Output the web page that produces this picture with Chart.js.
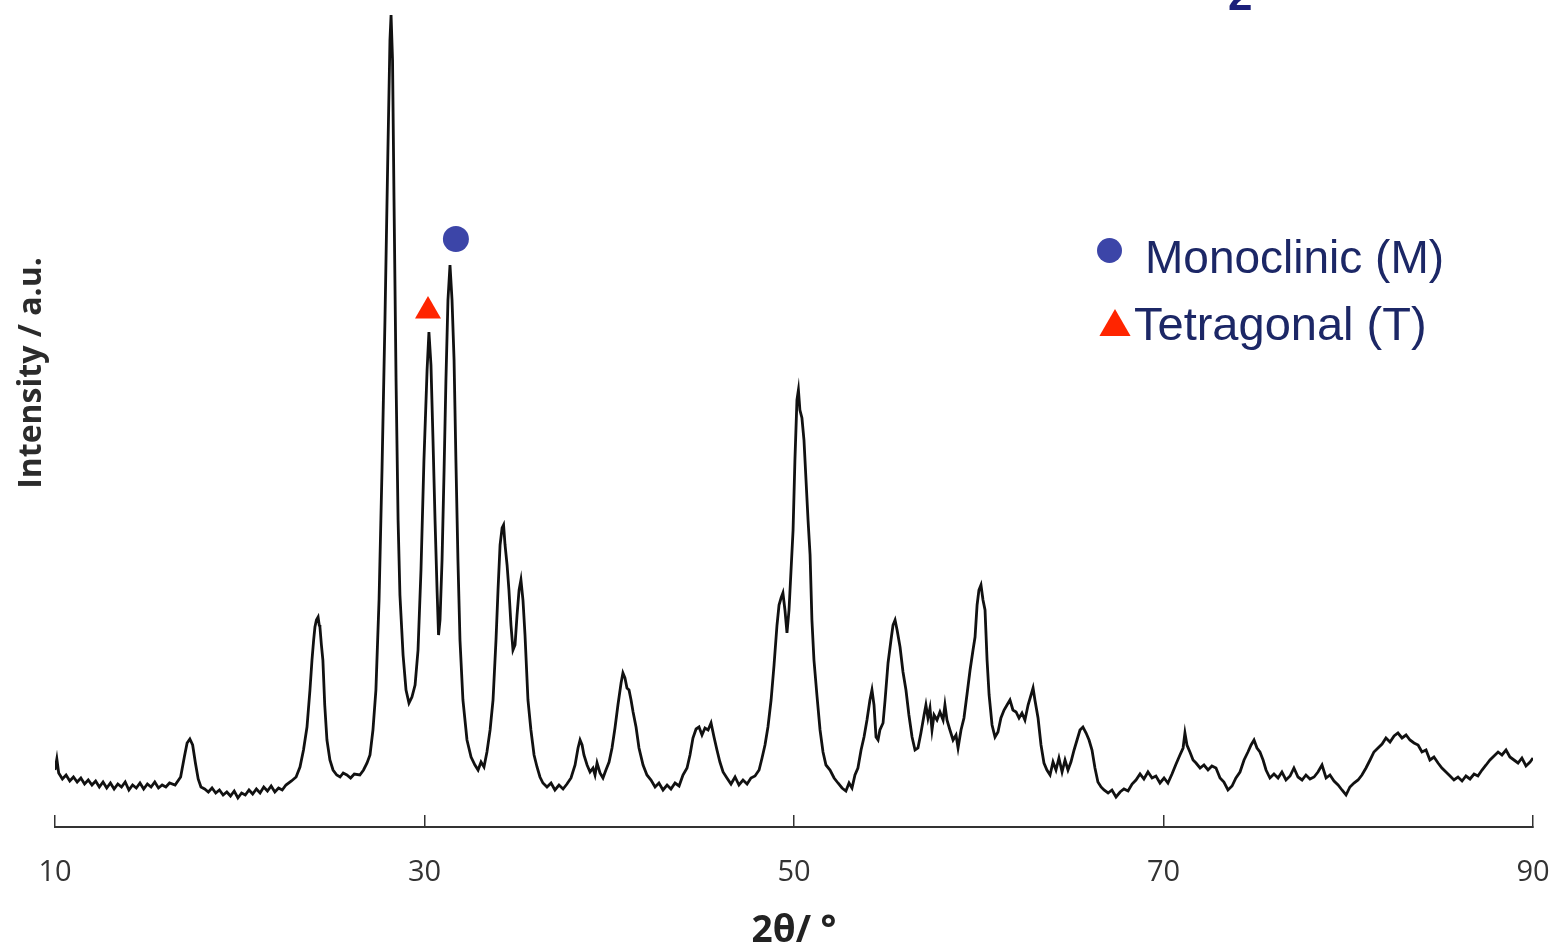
<!DOCTYPE html>
<html>
<head>
<meta charset="utf-8">
<script src="https://cdn.jsdelivr.net/npm/chart.js@4/dist/chart.umd.min.js"></script>
<style>
  html, body { margin: 0; padding: 0; background: #ffffff; }
  #wrap { width: 1555px; height: 949px; position: relative; }
</style>
</head>
<body>
<div id="wrap"><canvas id="xrd"></canvas></div>
<script>
// Diffraction angle 2θ (degrees)
const angles = [
  10.00,10.10,10.20,10.40,10.60,10.80,11.00,11.20,11.40,11.60,11.80,12.00,12.20,12.40,12.60,12.80,13.00,13.20,13.40,13.60,
  13.80,14.00,14.20,14.40,14.60,14.80,15.00,15.20,15.40,15.60,15.80,16.00,16.20,16.50,16.80,17.00,17.15,17.30,17.45,17.60,
  17.75,17.90,18.10,18.30,18.50,18.70,18.90,19.10,19.30,19.50,19.70,19.90,20.10,20.30,20.50,20.70,20.90,21.10,21.30,21.50,
  21.70,21.90,22.10,22.30,22.50,22.80,23.05,23.26,23.45,23.64,23.80,23.91,24.00,24.07,24.15,24.24,24.30,24.34,24.42,24.50,
  24.60,24.72,24.88,25.05,25.25,25.43,25.60,25.80,26.00,26.20,26.50,26.70,26.89,27.05,27.21,27.37,27.54,27.70,27.86,28.02,
  28.13,28.19,28.27,28.35,28.46,28.57,28.67,28.84,29.00,29.16,29.32,29.49,29.65,29.81,29.97,30.14,30.24,30.35,30.46,30.57,
  30.68,30.76,30.84,30.95,31.06,31.16,31.27,31.38,31.49,31.60,31.70,31.81,31.92,32.08,32.30,32.52,32.73,32.90,33.06,33.22,
  33.38,33.55,33.71,33.87,33.98,34.09,34.20,34.28,34.36,34.47,34.57,34.68,34.79,34.90,35.01,35.12,35.22,35.33,35.44,35.60,
  35.76,35.93,36.09,36.25,36.41,36.63,36.85,37.06,37.28,37.50,37.71,37.93,38.15,38.31,38.42,38.53,38.63,38.80,38.96,39.12,
  39.23,39.34,39.50,39.66,39.82,39.99,40.15,40.31,40.47,40.64,40.74,40.85,40.96,41.07,41.18,41.29,41.45,41.61,41.83,42.04,
  42.26,42.48,42.69,42.91,43.13,43.34,43.56,43.78,43.99,44.21,44.37,44.53,44.70,44.86,45.02,45.18,45.35,45.51,45.67,45.83,
  45.99,46.16,46.37,46.59,46.81,47.02,47.24,47.46,47.67,47.89,48.11,48.27,48.43,48.59,48.76,48.92,49.08,49.19,49.30,49.40,
  49.51,49.62,49.73,49.84,49.95,50.05,50.16,50.24,50.32,50.43,50.54,50.65,50.76,50.87,50.97,51.08,51.24,51.41,51.57,51.73,
  51.95,52.17,52.38,52.60,52.81,52.98,53.14,53.30,53.46,53.63,53.79,53.95,54.11,54.22,54.33,54.44,54.55,54.65,54.82,54.93,
  55.09,55.25,55.36,55.47,55.58,55.74,55.90,56.06,56.22,56.39,56.55,56.71,56.87,57.04,57.14,57.25,57.36,57.47,57.58,57.74,
  57.90,58.07,58.17,58.28,58.44,58.61,58.77,58.88,59.04,59.20,59.36,59.53,59.69,59.80,59.91,60.01,60.12,60.23,60.34,60.45,
  60.56,60.72,60.88,61.04,61.20,61.37,61.53,61.69,61.85,62.02,62.18,62.34,62.50,62.67,62.83,62.94,63.04,63.21,63.37,63.53,
  63.69,63.86,64.02,64.18,64.34,64.51,64.67,64.83,64.99,65.16,65.32,65.48,65.64,65.81,65.97,66.13,66.29,66.45,66.62,66.78,
  67.00,67.21,67.43,67.65,67.86,68.08,68.30,68.51,68.73,68.94,69.16,69.38,69.59,69.81,70.03,70.24,70.46,70.68,70.89,71.06,
  71.16,71.27,71.43,71.60,71.76,71.98,72.19,72.41,72.62,72.84,73.06,73.27,73.49,73.71,73.92,74.14,74.36,74.57,74.74,74.90,
  75.06,75.22,75.39,75.55,75.76,75.98,76.20,76.41,76.63,76.85,77.06,77.28,77.50,77.71,77.93,78.15,78.36,78.58,78.80,79.01,
  79.23,79.45,79.66,79.88,80.09,80.31,80.53,80.74,80.96,81.18,81.39,81.61,81.83,82.04,82.26,82.48,82.69,82.91,83.13,83.34,
  83.56,83.78,83.99,84.21,84.42,84.64,84.86,85.07,85.29,85.51,85.72,85.94,86.16,86.37,86.59,86.81,87.02,87.24,87.46,87.67,
  87.89,88.11,88.32,88.54,88.75,88.97,89.19,89.40,89.62,89.84,90.00
];

// Measured intensity (a.u.) at each angle
const counts = [
  55,66,52,46,50,44,48,43,47,41,45,40,44,38,43,37,42,36,41,38,
  43,35,40,37,42,36,41,38,43,37,40,38,42,40,48,68,82,86,80,62,
  46,38,36,33,37,32,35,30,33,29,34,27,32,30,35,31,36,32,38,34,
  39,33,37,35,40,44,48,58,75,98,135,165,185,198,205,208,200,198,180,165,
  120,85,65,55,50,48,52,50,47,51,50,55,62,70,95,135,225,355,505,675,
  785,810,765,625,445,305,230,170,135,122,128,140,175,255,365,455,493,460,385,305,
  235,190,205,265,355,445,525,560,525,465,365,265,185,125,85,68,60,55,63,58,
  73,95,125,185,235,280,297,300,280,260,235,200,175,180,210,235,245,225,190,125,
  95,70,58,48,42,38,42,35,40,36,41,47,60,77,85,80,70,60,53,57,
  50,62,52,47,55,63,77,97,120,142,152,147,137,135,125,113,98,77,60,50,
  45,38,42,35,40,36,42,39,50,57,70,87,96,98,90,97,95,102,88,75,
  63,53,47,41,48,40,45,41,47,49,55,67,80,98,125,160,200,220,227,232,
  215,192,215,255,295,365,425,435,415,407,385,345,305,270,205,165,130,95,73,60,
  55,47,42,37,34,42,37,50,57,75,88,105,125,135,120,88,85,95,102,125,
  162,185,200,205,195,178,153,135,110,88,75,77,92,110,120,107,117,95,110,105,
  113,105,120,105,95,85,90,77,95,107,130,155,175,188,220,235,240,225,215,165,
  130,100,88,93,107,115,120,125,115,113,107,112,105,120,130,137,125,107,80,62,
  55,50,63,55,67,53,65,55,63,75,85,95,98,92,85,75,57,43,38,35,
  32,35,28,33,36,34,41,45,51,46,53,47,49,42,47,42,51,61,70,77,
  92,80,73,65,62,57,60,55,59,57,47,43,35,39,47,53,65,73,80,85,
  77,73,65,55,47,51,47,53,45,49,57,48,45,50,46,48,53,60,47,50,
  44,40,35,30,38,42,45,50,57,65,73,77,81,87,83,89,92,87,90,85,
  82,80,73,75,65,68,62,57,53,49,45,48,44,49,46,51,49,55,60,65,
  69,73,70,75,68,65,62,67,59,63,67
];

// Phase reflections marked above their peaks
const phaseNames = ['Monoclinic (M)', 'Tetragonal (T)'];
const phaseAngles = [31.70, 30.19];
const phaseLevels = [586, 514];

const xTicks = [10, 30, 50, 70, 90];

const patternPoints = angles.map((a, i) => ({ x: a, y: counts[i] }));

// Draws the rotated y caption, the phase key and the title subscript
const annotations = {
  id: 'annotations',
  afterDraw(chart) {
    const ctx = chart.ctx;
    ctx.save();

    // Title subscript showing at the top edge
    ctx.fillStyle = '#1b1f7a';
    ctx.font = 'bold 44px "Liberation Sans", Arial, sans-serif';
    ctx.textBaseline = 'alphabetic';
    ctx.textAlign = 'left';
    ctx.fillText('2', 1228, 10);

    // Y caption
    ctx.save();
    ctx.translate(41, 373);
    ctx.rotate(-Math.PI / 2);
    ctx.fillStyle = '#2b2b2b';
    ctx.font = 'bold 32px "Open Sans", sans-serif';
    ctx.textAlign = 'center';
    ctx.textBaseline = 'alphabetic';
    ctx.fillText('Intensity / a.u.', 0, 0);
    ctx.restore();

    // Phase key
    const keyRows = [
      { ds: 1, mx: 1109.5, my: 250.5, r: 12.5, tx: 1145, ty: 273, size: 46 },
      { ds: 2, mx: 1115, my: 327, r: 18, tx: 1134, ty: 340, size: 47 }
    ];
    keyRows.forEach(row => {
      const ds = chart.data.datasets[row.ds];
      ctx.fillStyle = ds.backgroundColor;
      ctx.strokeStyle = ds.borderColor;
      Chart.helpers.drawPoint(ctx, {
        pointStyle: ds.pointStyle, radius: row.r, rotation: 0, borderWidth: 0
      }, row.mx, row.my);
      ctx.fillStyle = '#1c2766';
      ctx.font = row.size + 'px "Liberation Sans", Arial, sans-serif';
      ctx.textAlign = 'left';
      ctx.textBaseline = 'alphabetic';
      ctx.fillText(ds.label, row.tx, row.ty);
    });

    ctx.restore();
  }
};

new Chart(document.getElementById('xrd'), {
  type: 'scatter',
  data: {
    datasets: [
      {
        label: 'Pattern',
        data: patternPoints,
        showLine: true,
        borderColor: '#111111',
        borderWidth: 2.8,
        pointRadius: 0,
        tension: 0,
        order: 2
      },
      {
        label: phaseNames[0],
        data: [{ x: phaseAngles[0], y: phaseLevels[0] }],
        pointStyle: 'circle',
        pointRadius: 13,
        backgroundColor: '#3c45a8',
        borderColor: '#3c45a8',
        borderWidth: 0,
        order: 1
      },
      {
        label: phaseNames[1],
        data: [{ x: phaseAngles[1], y: phaseLevels[1] }],
        pointStyle: 'triangle',
        pointRadius: 15,
        backgroundColor: '#ff2500',
        borderColor: '#ff2500',
        borderWidth: 0,
        order: 1
      }
    ]
  },
  options: {
    responsive: true,
    maintainAspectRatio: false,
    animation: false,
    layout: { autoPadding: false, padding: { left: 55, right: 22, top: 0, bottom: 0 } },
    plugins: {
      legend: { display: false },
      tooltip: { enabled: false }
    },
    scales: {
      x: {
        type: 'linear',
        min: 10,
        max: 90,
        afterBuildTicks: (scale) => { scale.ticks = xTicks.map(v => ({ value: v })); },
        afterFit: (scale) => {
          scale.height = 122;
          scale.paddingLeft = 0;
          scale.paddingRight = 0;
        },
        ticks: {
          color: '#333333',
          font: { family: '"Open Sans", sans-serif', size: 29 },
          padding: 40,
          maxRotation: 0
        },
        grid: {
          drawOnChartArea: false,
          drawTicks: true,
          tickLength: -12,
          color: '#333333',
          lineWidth: 1.5
        },
        border: { display: true, color: '#333333', width: 2 },
        title: {
          display: true,
          text: '2θ/ °',
          color: '#222222',
          font: { family: '"Open Sans", sans-serif', size: 37, weight: 'bold' },
          padding: { top: 4, bottom: -5 }
        }
      },
      y: {
        display: false,
        min: -2,
        max: 825
      }
    }
  },
  plugins: [annotations]
});
</script>
</body>
</html>
